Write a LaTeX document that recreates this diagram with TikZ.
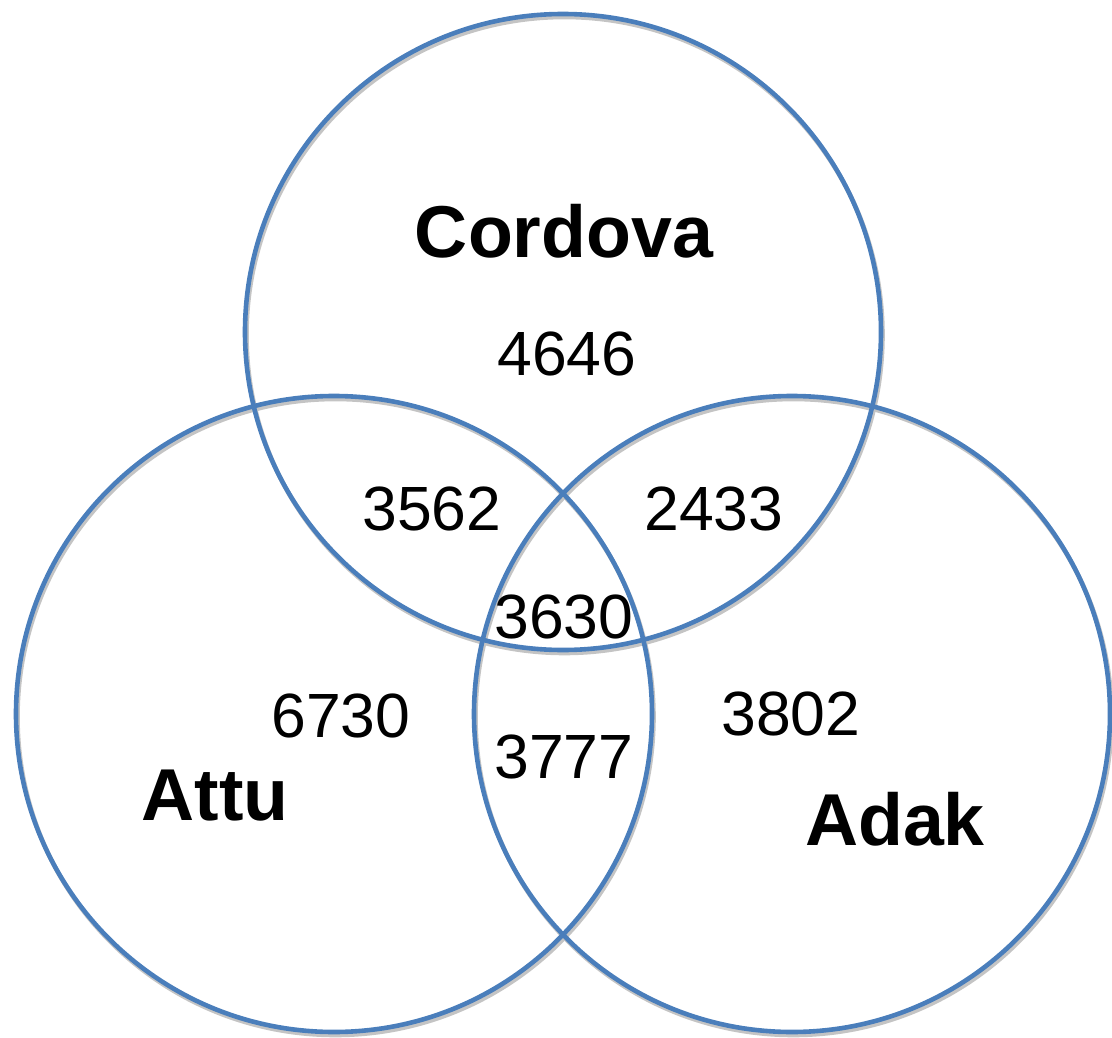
\documentclass[tikz,border=0pt]{standalone}
\usepackage{fontspec}
\setmainfont{Liberation Sans}
\definecolor{ringblue}{RGB}{74,126,187}
\definecolor{ringshadow}{RGB}{196,196,196}
\begin{document}
\begin{tikzpicture}[x=1pt,y=-1pt,
  ring/.style={circle,draw=ringblue,line width=4.6pt,minimum size=636pt,inner sep=0pt},
  ringshade/.style={circle,draw=ringshadow,line width=4.6pt,minimum size=636pt,inner sep=0pt},
  num/.style={anchor=base,inner sep=0pt,font=\fontsize{62.5}{62.5}\selectfont},
  lab/.style={anchor=base,inner sep=0pt,font=\fontsize{73.5}{73.5}\selectfont\bfseries}]
\useasboundingbox (0,0) rectangle (1112,1038);
% shadows
\node[ringshade] (cs) at (564.5,335) {};
\node[ringshade] (as) at (335.5,717) {};
\node[ringshade] (ds) at (793.5,717) {};
% rings
\node[ring] (cordova) at (563,332) {};
\node[ring] (attu) at (334,714) {};
\node[ring] (adak) at (792,714) {};
% labels
\node[lab] (lc) at (564,257) {Cordova};
\node[lab] (la) at (215,820) {Attu};
\node[lab] (ld) at (895,845) {Adak};
% numbers
\node[num] (n1) at (567,375) {4646};
\node[num] (n2) at (432,530) {3562};
\node[num] (n3) at (714,530) {2433};
\node[num] (n4) at (564,638) {3630};
\node[num] (n5) at (341,737) {6730};
\node[num] (n6) at (564,778) {3777};
\node[num] (n7) at (791,735) {3802};
\end{tikzpicture}
\end{document}
